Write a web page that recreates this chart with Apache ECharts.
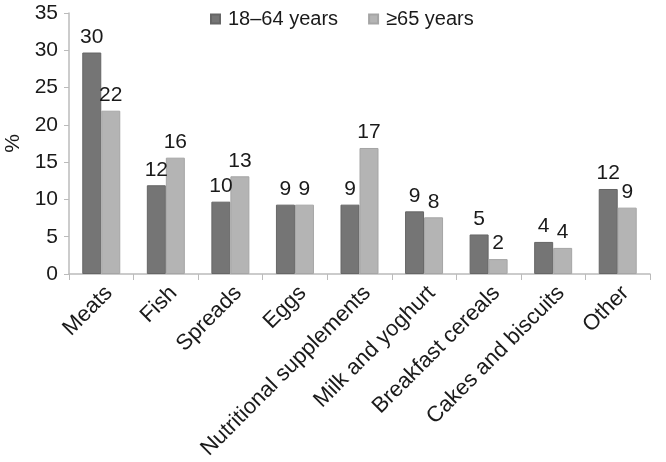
<!DOCTYPE html>
<html>
<head>
<meta charset="utf-8">
<script src="https://cdn.jsdelivr.net/npm/echarts@6/dist/echarts.min.js"></script>
<style>
  html, body { margin: 0; padding: 0; background: #fff; }
  #chart { width: 666px; height: 462px; }
</style>
</head>
<body>
<div id="chart"></div>
<script>
const categories = ["Meats", "Fish", "Spreads", "Eggs", "Nutritional supplements",
  "Milk and yoghurt", "Breakfast cereals", "Cakes and biscuits", "Other"];
const adults = [29.7, 11.9, 9.7, 9.3, 9.3, 8.4, 5.3, 4.3, 11.4];
const elderly = [21.9, 15.6, 13.1, 9.3, 16.9, 7.6, 2.0, 3.5, 8.9];
const adultLabels = [30, 12, 10, 9, 9, 9, 5, 4, 12];
const elderlyLabels = [22, 16, 13, 9, 17, 8, 2, 4, 9];

const font = "Liberation Sans, Arial, sans-serif";
const chart = echarts.init(document.getElementById("chart"));

chart.setOption({
  animation: false,
  textStyle: { fontFamily: font },
  legend: {
    top: 4,
    left: 205,
    itemWidth: 9,
    itemHeight: 9,
    itemGap: 30,
    icon: "rect",
    textStyle: { fontFamily: font, fontSize: 20, color: "#1a1a1a", padding: [0, 0, 0, 3] },
    data: ["18–64 years", "≥65 years"]
  },
  grid: { left: 69, right: 16, top: 13, bottom: 188, outerBoundsMode: "none", containLabel: false },
  xAxis: {
    type: "category",
    data: categories,
    axisLine: { lineStyle: { color: "#bbb", width: 1.5 } },
    axisTick: { show: true, length: 6, lineStyle: { color: "#bbb" } },
    axisLabel: {
      rotate: 45, fontSize: 22, color: "#1a1a1a", margin: 8, interval: 0,
      verticalAlign: "top", fontFamily: font
    }
  },
  yAxis: {
    type: "value",
    min: 0,
    max: 35,
    interval: 5,
    name: "%",
    nameLocation: "middle",
    nameGap: 44,
    nameTextStyle: { fontSize: 21, color: "#1a1a1a", fontFamily: font },
    axisLine: { show: true, lineStyle: { color: "#bbb", width: 1.5 } },
    axisTick: { show: true, length: 5, lineStyle: { color: "#bbb" } },
    axisLabel: { fontSize: 21, color: "#1a1a1a", margin: 11, fontFamily: font },
    splitLine: { show: false }
  },
  series: [
    {
      name: "18–64 years",
      type: "bar",
      data: adults,
      barWidth: 19,
      barGap: "0%",
      itemStyle: { color: "#757575", borderColor: "#666", borderWidth: 1 },
      label: {
        show: true, position: "top", distance: 5, fontSize: 21, color: "#1a1a1a", fontFamily: font,
        formatter: p => adultLabels[p.dataIndex]
      }
    },
    {
      name: "≥65 years",
      type: "bar",
      data: elderly,
      barWidth: 19,
      barGap: "0%",
      itemStyle: { color: "#b4b4b4", borderColor: "#a5a5a5", borderWidth: 1 },
      label: {
        show: true, position: "top", distance: 5, fontSize: 21, color: "#1a1a1a", fontFamily: font,
        formatter: p => elderlyLabels[p.dataIndex]
      }
    }
  ]
});
</script>
</body>
</html>
